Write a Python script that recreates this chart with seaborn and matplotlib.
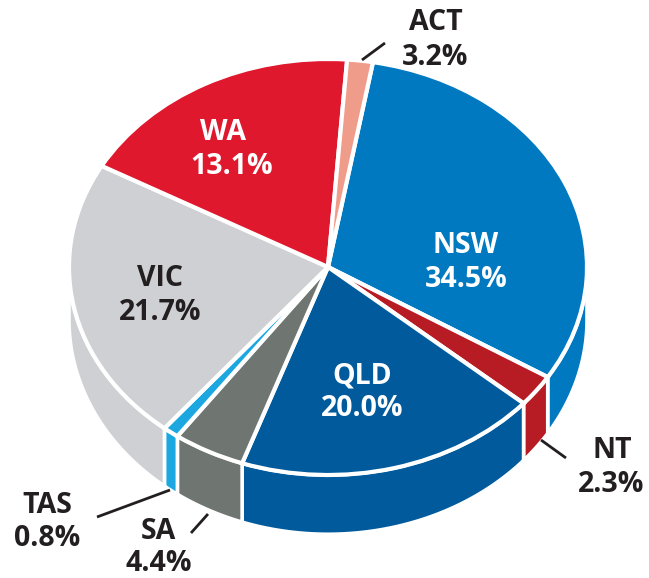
import numpy as np
import matplotlib
matplotlib.use("Agg")
import matplotlib.pyplot as plt
import seaborn as sns

# states, clockwise from the NSW/ACT edge
states = ["NSW", "NT", "QLD", "SA", "TAS", "VIC", "WA", "ACT"]
# printed percentages
printed = ["34.5%", "2.3%", "20.0%", "4.4%", "0.8%", "21.7%", "13.1%", "3.2%"]
# slice sizes as drawn (the artwork is not to scale with the printed numbers)
drawn_share = [31.1, 2.5, 19.0, 4.5, 1.0, 22.2, 18.1, 1.6]
colours = ["#0079C1", "#B71C24", "#005A9C", "#6F7672", "#1CA7E0", "#CFD0D3", "#E0182D", "#F09C8A"]

W, H = 649, 578
cx, cy = 328, 267     # pie centre in pixels
rx, ry = 259, 208     # pixels per pie radius
depth = 53 / ry       # wall height
bottom_scale = 1.03
start = 80

sns.set_theme(style="white")
plt.rcParams["font.family"] = ["Open Sans", "DejaVu Sans"]

fig = plt.figure(figsize=(W / 100, H / 100), dpi=100)
ax = fig.add_axes([0, 0, 1, 1])

# side walls, lower half of the rim only
edges = start - np.cumsum([0] + drawn_share) * 3.6
for i, colour in enumerate(colours):
    t = np.radians(np.linspace(edges[i], edges[i + 1], 200))
    t = t[np.sin(t) <= 0]
    if len(t) == 0:
        continue
    x = np.concatenate([np.cos(t), np.cos(t[::-1])])
    y = np.concatenate([np.sin(t), bottom_scale * np.sin(t[::-1]) - depth])
    ax.fill(x, y, facecolor=colour, edgecolor="white", linewidth=2.6, zorder=1)

# top face
wedges, _ = ax.pie(drawn_share, colors=colours, startangle=start, counterclock=False,
                   wedgeprops={"edgecolor": "white", "linewidth": 3, "zorder": 2})
ax.set_aspect("auto")
ax.set_xlim(-cx / rx, (W - cx) / rx)
ax.set_ylim((cy - H) / ry, cy / ry)
ax.axis("off")

# overlay in pixel coordinates for text and leader lines
ann = fig.add_axes([0, 0, 1, 1], facecolor="none")
ann.set_xlim(0, W)
ann.set_ylim(H, 0)
ann.axis("off")

# name x, name y, percent x, percent y, colour
label_pos = {
    "NSW": (466, 242, 466, 276, "white"),
    "NT": (612, 447, 611, 481, "#231F20"),
    "QLD": (362, 372, 362, 405, "white"),
    "SA": (158, 528, 159, 560, "#231F20"),
    "TAS": (47, 502, 47, 535, "#231F20"),
    "VIC": (160, 275, 160, 309, "#231F20"),
    "WA": (223, 129, 232, 163, "white"),
    "ACT": (436, 19, 435, 54, "#231F20"),
}
for name, pct in zip(states, printed):
    nx, ny, px, py, c = label_pos[name]
    ann.text(nx, ny, name, color=c, ha="center", va="center_baseline", fontsize=20.5, fontweight="bold")
    ann.text(px, py, pct, color=c, ha="center", va="center_baseline", fontsize=20.5, fontweight="bold")

leaders = [((362, 60), (385, 43)), ((541, 440), (566, 458)),
           ((170, 490), (97, 517)), ((208, 514), (191, 533))]
for (x0, y0), (x1, y1) in leaders:
    ann.plot([x0, x1], [y0, y1], color="#231F20", linewidth=2, solid_capstyle="butt")

fig.savefig("out.png", dpi=100)
